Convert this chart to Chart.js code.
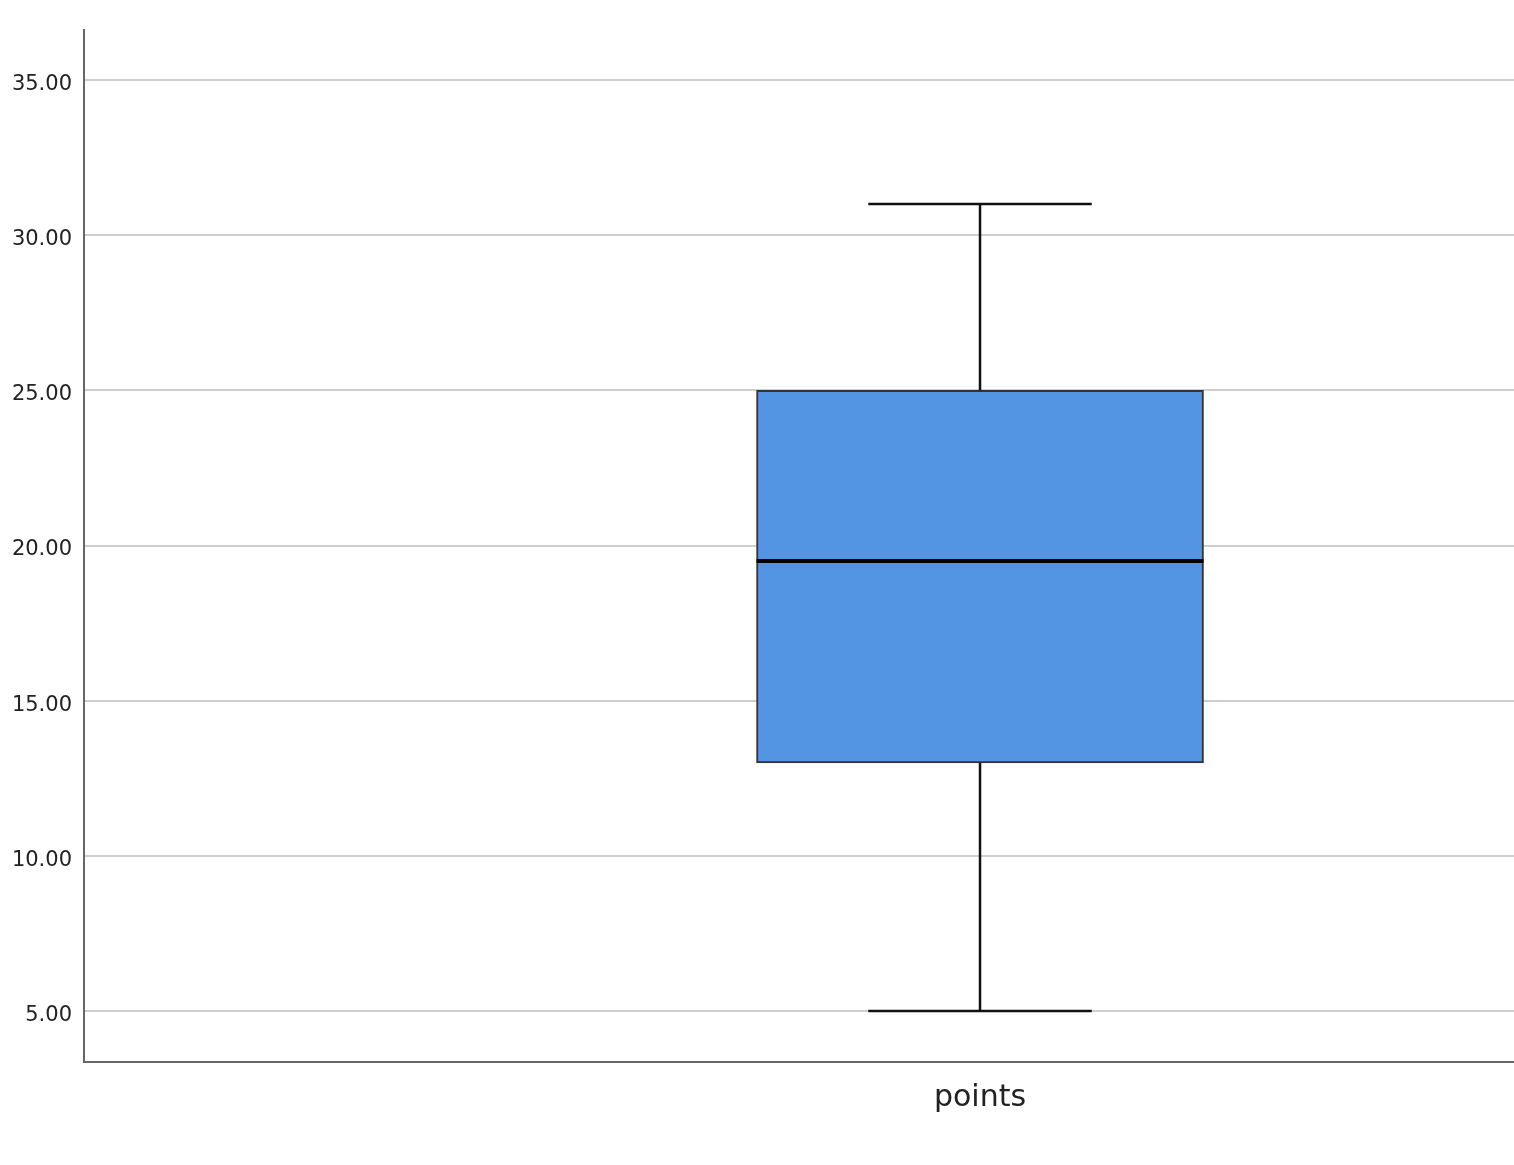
<!DOCTYPE html>
<html>
<head>
<meta charset="utf-8">
<script src="https://cdn.jsdelivr.net/npm/chart.js@4"></script>
<style>
  html, body { margin: 0; padding: 0; background: #fff; }
  #wrap { width: 1514px; height: 1165px; position: relative; }
</style>
</head>
<body>
<div id="wrap"><canvas id="boxChart"></canvas></div>
<script>
// ---------------------- DATA ---------------------
const categories = ["points"];
const minValues = [5];
const q1Values = [13];
const medianValues = [19.5];
const q3Values = [25];
const maxValues = [31];
const yTicks = [5, 10, 15, 20, 25, 30, 35];

// ---------------------- BOX + WHISKERS ---------------------
// the box itself is a floating bar; whiskers and median drawn on top with the scales
const whiskerPlugin = {
  id: "whiskers",
  afterDatasetsDraw(chart) {
    const ctx = chart.ctx;
    const yScale = chart.scales.y;
    const meta = chart.getDatasetMeta(0);

    meta.data.forEach(function (bar, i) {
      const cx = bar.x;
      const half = bar.width / 2;
      const cap = bar.width / 4;
      const yMin = yScale.getPixelForValue(minValues[i]);
      const yQ1 = yScale.getPixelForValue(q1Values[i]);
      const yMed = yScale.getPixelForValue(medianValues[i]);
      const yQ3 = yScale.getPixelForValue(q3Values[i]);
      const yMax = yScale.getPixelForValue(maxValues[i]);

      ctx.save();
      ctx.strokeStyle = "#111";
      ctx.lineWidth = 2.5;
      ctx.beginPath();
      ctx.moveTo(cx, yQ3); ctx.lineTo(cx, yMax);
      ctx.moveTo(cx - cap, yMax); ctx.lineTo(cx + cap, yMax);
      ctx.moveTo(cx, yQ1); ctx.lineTo(cx, yMin);
      ctx.moveTo(cx - cap, yMin); ctx.lineTo(cx + cap, yMin);
      ctx.stroke();

      ctx.strokeStyle = "#000";
      ctx.lineWidth = 4;
      ctx.beginPath();
      ctx.moveTo(cx - half, yMed); ctx.lineTo(cx + half, yMed);
      ctx.stroke();
      ctx.restore();
    });
  }
};

const boxData = categories.map(function (c, i) {
  return { x: i, y: [q1Values[i], q3Values[i]] };
});

const ctx = document.getElementById("boxChart").getContext("2d");

new Chart(ctx, {
  type: "bar",
  data: {
    datasets: [{
      label: "points",
      data: boxData,
      backgroundColor: "#5394e3",
      borderColor: "#333",
      borderWidth: 2,
      borderSkipped: false,
      barThickness: 447
    }]
  },
  options: {
    responsive: true,
    maintainAspectRatio: false,
    animation: false,
    layout: { padding: { top: 30, right: 0, left: 0, bottom: 0 } },
    plugins: {
      legend: { display: false },
      tooltip: { enabled: false }
    },
    scales: {
      x: {
        type: "linear",
        offset: false,
        min: -1.678,
        max: 1,
        grid: { display: true, drawOnChartArea: false, drawTicks: false, offset: false },
        border: { display: true, color: "#666", width: 2 },
        afterBuildTicks: function (scale) {
          scale.ticks = categories.map(function (c, i) { return { value: i }; });
        },
        afterFit: function (scale) { scale.height = 103; },
        ticks: {
          padding: 18,
          color: "#222",
          font: { family: "DejaVu Sans", size: 30 },
          callback: function (value) { return categories[value]; }
        }
      },
      y: {
        min: 3.36,
        max: 36.61,
        grid: { color: "#cfcfcf", lineWidth: 2, drawTicks: false },
        border: { display: true, color: "#666", width: 2 },
        afterBuildTicks: function (scale) {
          scale.ticks = yTicks.map(function (v) { return { value: v }; });
        },
        afterFit: function (scale) { scale.width = 84; },
        ticks: {
          padding: 12,
          color: "#222",
          // empty first line nudges the label a few px below its grid line, like the original
          font: { family: "DejaVu Sans", size: 21, lineHeight: "9px" },
          callback: function (value) { return ["", Number(value).toFixed(2)]; }
        }
      }
    }
  },
  plugins: [whiskerPlugin]
});
</script>
</body>
</html>
